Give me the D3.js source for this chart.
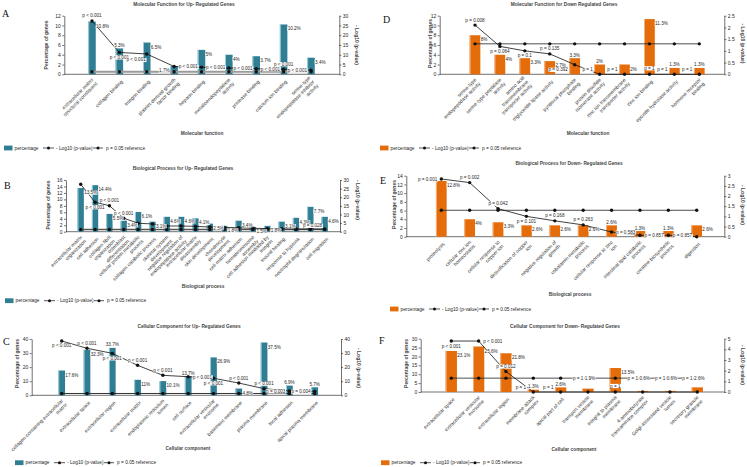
<!DOCTYPE html>
<html><head><meta charset="utf-8">
<script src="https://cdn.jsdelivr.net/npm/d3@7"></script>
<style>
body{margin:0;background:#fff}
svg{display:block}
text{font-family:"Liberation Sans",Arial,sans-serif;fill:#262626}
</style>
</head><body><svg id="c" width="747" height="467"></svg>
<script>
// ---------------- DATA ----------------
const legendLabels = ["percentage", "- Log10 (p-value)", "p = 0.05 reference"];
const refLog = 1.3; // -log10(0.05)

// A: Molecular function, up-regulated
const catA = ["extracellular matrix\nstructural constituent","collagen binding","integrin binding","platelet-derived growth\nfactor binding","heparin binding","metalloendopeptidase\nactivity","protease binding","calcium ion binding","serine-type\nendopeptidase inhibitor\nactivity"];
const pctA = [10.8,5.3,6.5,1.7,5,4,3.7,10.2,3.4];
const logA = [27.3,11.2,10.4,4.0,3.6,3.2,2.9,2.6,2.1];
const pA = ["p < 0.001","p < 0.001","p < 0.001","p < 0.001","p < 0.001","p < 0.001","p < 0.001","p < 0.001","p < 0.001"];

// D: Molecular function, down-regulated
const catD = ["serine-type\nendopeptidase activity","serine-type peptidase\nactivity","amino acid\ntransmembrane\ntransporter activity","triglyceride lipase activity","pyridoxal phosphate\nbinding","protein disulfide\nisomerase activity","zinc ion transmembrane\ntransporter activity","zinc ion binding","epoxide hydrolase activity","hormone receptor\nbinding"];
const pctD = [8,4,3.3,2.7,3.3,2,2,11.3,1.3,1.3];
const logD = [2.1,1.19,1.0,0.87,0.41,0,0,0,0,0];
const pD = ["p = 0.008","p = 0.064","p = 0.1","p = 0.135","p = 0.392","p = 1","p = 1","p = 1","p = 1","p = 1"];

// B: Biological process, up-regulated
const catB = ["extracellular matrix\norganization","cell adhesion","collagen fibril\norganization","osteoblast\ndifferentiation","cellular protein metabolic\nprocess","collagen catabolic process","skeletal system\ndevelopment","negative regulation of\nendopeptidase activity","extracellular matrix\ndisassembly","skin development","chondrocyte\ndevelopment","cell-matrix adhesion","hemidesmosome\nassembly","cell adhesion mediated by\nintegrin","wound healing","response to hypoxia","neutrophil degranulation","cell migration"];
const pctB = [13.5,14.4,5.5,3.4,6.1,3.1,4.6,4.6,4.1,2.5,1.8,3.4,1.5,1.8,3.1,4.3,7.7,4.6];
const logB = [27.5,17.1,15.1,7.8,4.9,4.5,3.3,3.3,3.1,2.7,2.5,2.3,2.0,1.8,1.8,1.6,1.6,1.55];
const pB = ["","p < 0.001","p < 0.001","p < 0.001","","","","","","","","","","","","","","p = 0.028"];

// E: Biological process, down-regulated
const catE = ["proteolysis","cellular zinc ion\nhomeostasis","cellular response to\ncopper ion","detoxification of copper\nion","negative regulation of\ngrowth","cobalamin metabolic\nprocess","cellular response to zinc\nion","intestinal lipid catabolic\nprocess","creatine biosynthetic\nprocess","digestion"];
const pctE = [12.8,4,3.3,2.6,2.6,2.6,2.6,1.3,1.3,2.6];
const logE = [2.84,2.66,1.38,1.0,0.78,0.58,0.23,0.07,0.07,0];
const pE = ["p = 0.001","p = 0.002","p = 0.042","p = 0.101","p = 0.168","p = 0.263","p = 0.583","p = 0.857","p = 0.857",""];

// C: Cellular component, up-regulated
const catC = ["collagen-containing extracellular\nmatrix","extracellular space","extracellular region","extracellular matrix","endoplasmic reticulum\nlumen","cell surface","extracellular vesicular\nexosome","basement membrane","plasma membrane","focal adhesion","apical plasma membrane"];
const pctC = [17.6,32.3,33.7,11,10.1,13.7,26.9,4.8,37.5,6.9,5.7];
const logC = [38.6,33.4,29.8,21.3,14.2,13.2,12.1,8.7,4.7,3.1,2.8];
const pC = ["p < 0.001","p < 0.001","p < 0.001","p < 0.001","p < 0.001","p < 0.001","p < 0.001","p < 0.001","p < 0.001","p = 0.003","p = 0.004"];

// F: Cellular component, down-regulated
const catF = ["extracellular space","extracellular vesicular\nexosome","extracellular region","membrane attack\ncomplex","apical part of cell","transport vesicle\nmembrane","integral to plasma\nmembrane","4-aminobutyrate\ntransaminase complex","Golgi-associated vesicle\nlumen","secretory granule\nmembrane"];
const pctF = [23.1,25.6,21.8,1.3,2.6,1.9,13.5,0.6,0.6,2.6];
const logF = [4.78,4.78,1.92,0,0,0,0,0,0,0];
const pF = ["p < 0.001","p < 0.001","p = 0.012","p = 1","p = 1","p = 1","p = 1","p = 1","p = 1","p = 1"];

// ---------------- LAYOUT ----------------
const TEAL = "#2f7e94", TEAL_L = "#a7d3de", ORANGE = "#e46c0a", ORANGE_L = "#f5b584";
const svg = d3.select("#c");
svg.append("rect").attr("width",747).attr("height",467).attr("fill","#fff");

const panels = [
 {letter:"A", lx:2, ly:13, title:"Molecular Function for Up- Regulated Genes", tx:184, ty:4.5, xTitle:"Molecular function", xtx:202, xty:133,
  cats:catA, pct:pctA, logv:logA, plab:pA, color:TEAL, light:TEAL_L,
  L:64.3, R:339.3, T:15.7, B:74.3, lmax:12, lstep:2, rmax:30, rstep:5, x0:92, x1:311, bw:7.5,
  ylx:46, yly:45, rlx:357, rly:45, legX:4, legY:148, refC:"#9a9a9a", refW:2.2,
  pctPos:['r','a','r','l','r','r','r','r','r'], pPos:['a','b','bl','r','r','r','r','a','l']},
 {letter:"D", lx:383, ly:19, title:"Molecular Function for Down Regulated Genes", tx:564, ty:4.5, xTitle:"Molecular function", xtx:588, xty:133,
  cats:catD, pct:pctD, logv:logD, plab:pD, color:ORANGE, light:ORANGE_L,
  L:439.7, R:724.3, T:15.7, B:74.3, lmax:12, lstep:2, rmax:2.5, rstep:0.5, x0:475, x1:699.3, bw:10.7,
  ylx:430, yly:43.5, rlx:742.7, rly:43.5, legX:380, legY:148, refC:"#222", refW:0.8,
  pctPos:['r','r','r','r','a','a','r','r','a','a'], pPos:['a','b','b','a','L','L','L','c','L','L']},
 {letter:"B", lx:4, ly:185, title:"Biological Process for Up- Regulated Genes", tx:183, ty:168, xTitle:"Biological process", xtx:203, xty:286.7,
  cats:catB, pct:pctB, logv:logB, plab:pB, color:TEAL, light:TEAL_L,
  L:66, R:340, T:180, B:231.7, lmax:16, lstep:2, rmax:30, rstep:5, x0:80.7, x1:324.7, bw:6.3,
  ylx:48.3, yly:205, rlx:358, rly:200, legX:5, legY:300.7, refC:"#555", refW:1.4,
  pctPos:['r','r','r','r','r','r','r','r','r','r','r','r','r','r','r','r','r','r'], pPos:['a','b','a','a','a','a','a','a','a','a','a','a','a','a','a','a','a','Q']},
 {letter:"E", lx:380, ly:180, title:"Biological Process for Down- Regulated Genes", tx:569, ty:163, xTitle:"Biological process", xtx:570, xty:294.3,
  cats:catE, pct:pctE, logv:logE, plab:pE, color:ORANGE, light:ORANGE_L,
  L:406.3, R:724.3, T:175.7, B:236.7, lmax:14, lstep:2, rmax:3, rstep:0.5, x0:441.3, x1:696.7, bw:10.7,
  ylx:393.7, yly:204.5, rlx:742.7, rly:205, legX:390, legY:309, refC:"#222", refW:0.8,
  pctPos:['r','r','r','r','r','r','a','a','a','r'], pPos:['l','a','a','b','a','a','r','r','r','r']},
 {letter:"C", lx:3, ly:341.5, title:"Cellular Component for Up- Regulated Genes", tx:189, ty:326, xTitle:"Cellular component", xtx:188, xty:448.3,
  cats:catC, pct:pctC, logv:logC, plab:pC, color:TEAL, light:TEAL_L,
  L:31.7, R:341, T:339, B:395.3, lmax:40, lstep:10, rmax:40, rstep:10, x0:61.7, x1:314.7, bw:6.7,
  ylx:17.3, yly:363.5, rlx:359, rly:368, legX:15, legY:462.7, refC:"#333", refW:1,
  pctPos:['r','r','a','r','r','a','r','r','r','a','a'], pPos:['b','a','b','a','a','r','b','a','a','l','l']},
 {letter:"F", lx:379, ly:340, title:"Cellular Component for Down- Regulated Genes", tx:565, ty:326, xTitle:"Cellular component", xtx:574, xty:449.3,
  cats:catF, pct:pctF, logv:logF, plab:pF, color:ORANGE, light:ORANGE_L,
  L:420.7, R:724.3, T:338.7, B:392, lmax:30, lstep:5, rmax:5, rstep:1, x0:451.3, x1:697.3, bw:11.3,
  ylx:406.3, yly:363.5, rlx:742.7, rly:365, legX:381, legY:462.7, refC:"#222", refW:0.8,
  pctPos:['r','r','r','a','a','H','r','H','H','H'], pPos:['b','r','a','L','L','H','c','H','H','H']}
];

const fmt = d3.format("~g");

function labelWithBg(g, x, y, anchor, txt, size) {
  if (!txt) return;
  const t = g.append("text").attr("x",x).attr("y",y).attr("text-anchor",anchor)
    .attr("dominant-baseline","central").style("font-size",size+"px").text(txt);
  const bb = t.node().getBBox();
  g.insert("rect", () => t.node()).attr("x",bb.x-0.3).attr("y",bb.y+0.4).attr("width",bb.width+0.6).attr("height",bb.height-0.8).attr("fill","#fff");
}

function drawPanel(p) {
  const g = svg.append("g");
  const yL = d3.scaleLinear().domain([0,p.lmax]).range([p.B,p.T]);
  const yR = d3.scaleLinear().domain([0,p.rmax]).range([p.B,p.T]);
  const x = d3.scalePoint().domain(p.cats).range([p.x0,p.x1]);
  const refY = yR(refLog);

  // letter + titles
  g.append("text").attr("x",p.lx).attr("y",p.ly).attr("dominant-baseline","central")
    .style("font-family","'Liberation Serif','Times New Roman',serif").style("font-size","10px").style("fill","#111").text(p.letter);
  g.append("text").attr("x",p.tx).attr("y",p.ty).attr("text-anchor","middle").attr("dominant-baseline","central")
    .style("font-size","4.8px").style("font-weight","bold").style("fill","#444").text(p.title);
  g.append("text").attr("x",p.xtx).attr("y",p.xty).attr("text-anchor","middle").attr("dominant-baseline","central")
    .style("font-size","4.8px").style("font-weight","bold").style("fill","#444").text(p.xTitle);
  g.append("text").attr("transform",`translate(${p.ylx},${p.yly}) rotate(-90)`).attr("text-anchor","middle").attr("dominant-baseline","central")
    .style("font-size","5px").style("font-weight","bold").style("fill","#444").text("Percentage of genes");
  g.append("text").attr("transform",`translate(${p.rlx},${p.rly}) rotate(90)`).attr("text-anchor","middle").attr("dominant-baseline","central")
    .style("font-size","5px").style("font-weight","bold").style("fill","#444").text("- Log10 (p-value)");

  // axes
  const ax = g.append("g").attr("transform",`translate(${p.L},0)`)
    .call(d3.axisLeft(yL).tickValues(d3.range(0,p.lmax+1e-9,p.lstep)).tickFormat(fmt).tickSize(2).tickSizeOuter(0).tickPadding(1.5));
  const axr = g.append("g").attr("transform",`translate(${p.R},0)`)
    .call(d3.axisRight(yR).tickValues(d3.range(0,p.rmax+1e-9,p.rstep)).tickFormat(fmt).tickSize(2).tickSizeOuter(0).tickPadding(1.5));
  [ax,axr].forEach(a=>{
    a.selectAll("path,line").attr("stroke","#333").attr("stroke-width",0.7);
    a.selectAll("text").style("font-size","5px").style("font-family","'Liberation Sans',Arial,sans-serif").attr("fill","#333");
  });
  g.append("line").attr("x1",p.L).attr("x2",p.R).attr("y1",p.B).attr("y2",p.B).attr("stroke","#333").attr("stroke-width",0.7);

  // category labels
  p.cats.forEach(c=>{
    const lines = c.split("\n");
    const t = g.append("text").attr("transform",`translate(${x(c)+2.5},${p.B+6.5}) rotate(-45)`)
      .attr("text-anchor","end").style("font-size","5px").style("fill","#333");
    lines.forEach((ln,i)=> t.append("tspan").attr("x",0).attr("y",(i-(lines.length-1)/2)*5.6+1.8).text(ln));
  });

  // bars
  p.cats.forEach((c,i)=>{
    const cx = x(c), top = yL(p.pct[i]);
    g.append("rect").attr("x",cx-p.bw/2).attr("y",top).attr("width",p.bw).attr("height",p.B-top).attr("fill",p.color);
    g.append("rect").attr("x",cx-p.bw/2).attr("y",top).attr("width",0.9).attr("height",p.B-top).attr("fill",p.light);
  });

  // reference line
  const refLine = d3.line().x(c=>x(c)).y(()=>refY);
  g.append("path").attr("d",refLine(p.cats)).attr("fill","none").attr("stroke",p.refC).attr("stroke-width",p.refW);
  p.cats.forEach(c=> g.append("circle").attr("cx",x(c)).attr("cy",refY).attr("r",1.7).attr("fill","#111"));

  // -log10 line
  const ln = d3.line().x((d,i)=>x(p.cats[i])).y(d=>yR(d));
  g.append("path").attr("d",ln(p.logv)).attr("fill","none").attr("stroke","#111").attr("stroke-width",0.8);
  p.logv.forEach((v,i)=> g.append("circle").attr("cx",x(p.cats[i])).attr("cy",yR(v)).attr("r",1.7).attr("fill","#111"));

  // labels
  const lab = g.append("g");
  p.cats.forEach((c,i)=>{
    const cx = x(c), top = yL(p.pct[i]), hw = p.bw/2;
    let pos;
    switch(p.pctPos[i]){
      case 'r': pos=[cx+hw+0.3, top+4.5, 'start']; break;
      case 'a': pos=[cx, top-3, 'middle']; break;
      case 'l': pos=[cx-hw-0.8, top+4.5, 'end']; break;
      case 'H': pos=[cx+2, refY, 'middle']; break;
    }
    labelWithBg(lab, pos[0], pos[1], pos[2], fmt(p.pct[i])+"%", 4.6);
  });
  p.cats.forEach((c,i)=>{
    const cx = x(c), py = yR(p.logv[i]), hw = p.bw/2;
    let pos;
    switch(p.pPos[i]){
      case 'a': pos=[cx, py-5, 'middle']; break;
      case 'b': pos=[cx, py+5, 'middle']; break;
      case 'l': pos=[cx-4, py+0.5, 'end']; break;
      case 'r': pos=[cx+4.5, py+0.5, 'start']; break;
      case 'Q': pos=[cx-2.5, py-3.2, 'end']; break;
      case 'bl': pos=[cx-1, py+6, 'end']; break;
      case 'L': pos=[cx-hw-1.5, p.B-4.5, 'end']; break;
      case 'c': pos=[cx, p.B-6, 'middle']; break;
      case 'H': pos=[cx-hw+1, refY, 'end']; break;
    }
    labelWithBg(lab, pos[0], pos[1], pos[2], p.plab[i], 4.6);
  });

  // legend
  const lg = g.append("g").attr("transform",`translate(${p.legX},${p.legY})`);
  lg.append("rect").attr("x",0).attr("y",-2.4).attr("width",8.5).attr("height",4.8).attr("fill",p.color);
  lg.append("text").attr("x",10.5).attr("y",0).attr("dominant-baseline","central").style("font-size","4.8px").text(legendLabels[0]);
  [[39,50,51],[89,99,101]].forEach((s,k)=>{
    lg.append("line").attr("x1",s[0]).attr("x2",s[1]).attr("y1",0).attr("y2",0).attr("stroke","#111").attr("stroke-width",0.7);
    lg.append("circle").attr("cx",(s[0]+s[1])/2).attr("cy",0).attr("r",1.5).attr("fill","#111");
    lg.append("text").attr("x",s[2]+1).attr("y",0).attr("dominant-baseline","central").style("font-size","4.8px").text(legendLabels[k+1]);
  });
}

panels.forEach(drawPanel);
</script></body></html>
